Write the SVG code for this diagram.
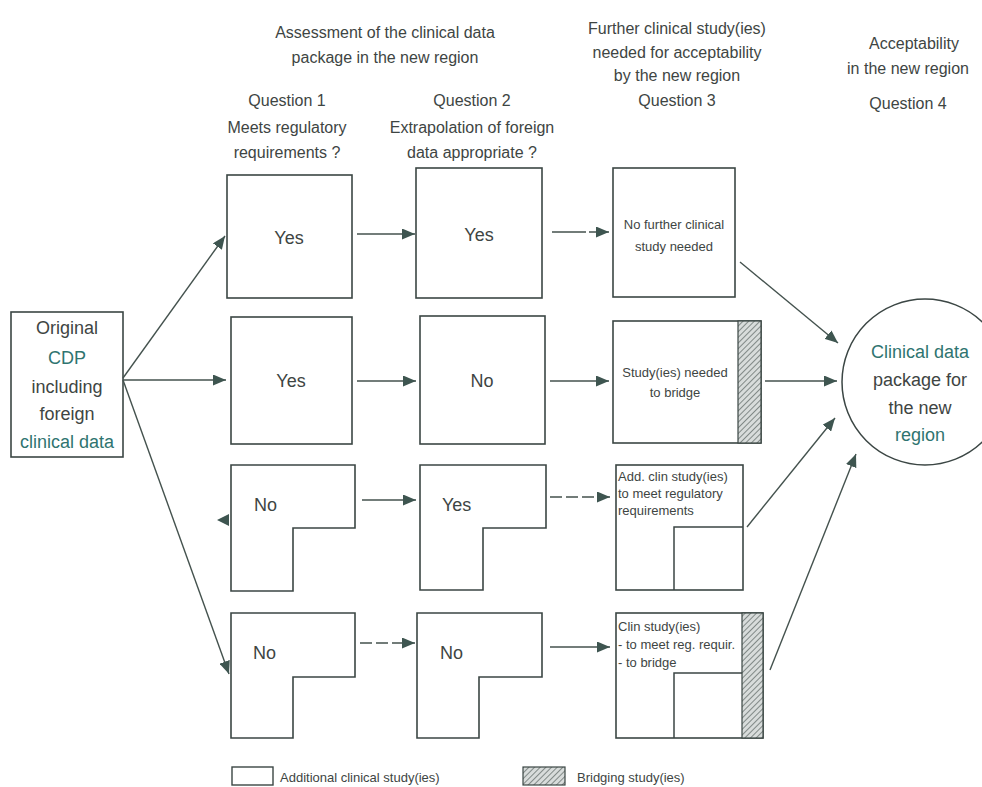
<svg xmlns="http://www.w3.org/2000/svg" width="982" height="787" viewBox="0 0 982 787">
<defs>
<style>
.t{font-family:"Liberation Sans",Arial,sans-serif;fill:#3e4543}
.h{font-size:16px;text-anchor:middle}
.big{font-size:18px}
.mid{text-anchor:middle}
.sm{font-size:13px}
.teal{fill:#2f7470}
.box{fill:#fff;stroke:#3b4644;stroke-width:1.6}
.ln{fill:none;stroke:#3b4644;stroke-width:1.5}
.c{fill:none;stroke:#44524e;stroke-width:1.4}
.ah{fill:#3e5550}
</style>
<marker id="arr" markerUnits="userSpaceOnUse" markerWidth="14" markerHeight="11" refX="13" refY="5.5" orient="auto" viewBox="0 0 14 11">
<path d="M0,0 L13,5.5 L0,11 Z" class="ah"/>
</marker>
<pattern id="hatch" patternUnits="userSpaceOnUse" width="4" height="4" patternTransform="rotate(45)">
<rect width="4" height="4" fill="#d8dcdb"/>
<line x1="0" y1="0" x2="0" y2="4" stroke="#6b7472" stroke-width="1.6"/>
</pattern>
</defs>
<rect width="982" height="787" fill="#fff"/>

<g id="headers">
<text class="t h" x="385" y="38">Assessment of the clinical data</text>
<text class="t h" x="385" y="63">package in the new region</text>
<text class="t h" x="287" y="106">Question 1</text>
<text class="t h" x="287" y="133">Meets regulatory</text>
<text class="t h" x="287" y="158">requirements ?</text>
<text class="t h" x="472" y="106">Question 2</text>
<text class="t h" x="472" y="133">Extrapolation of foreign</text>
<text class="t h" x="472" y="158">data appropriate ?</text>
<text class="t h" x="677" y="34">Further clinical study(ies)</text>
<text class="t h" x="677" y="58">needed for acceptability</text>
<text class="t h" x="677" y="81">by the new region</text>
<text class="t h" x="677" y="106">Question 3</text>
<text class="t h" x="914" y="49">Acceptability</text>
<text class="t h" x="908" y="74">in the new region</text>
<text class="t h" x="908" y="109">Question 4</text>
</g>

<g id="cdp">
<rect class="box" x="11" y="312" width="112" height="145"/>
<text class="t big mid" x="67" y="334">Original</text>
<text class="t big mid teal" x="67" y="364">CDP</text>
<text class="t big mid" x="67" y="393">including</text>
<text class="t big mid" x="67" y="420">foreign</text>
<text class="t big mid teal" x="67" y="448">clinical data</text>
</g>

<g id="q1-r1"><rect class="box" x="227" y="175" width="125" height="123"/><text class="t big mid" x="289" y="244">Yes</text></g>
<g id="q2-r1"><rect class="box" x="416" y="168" width="126" height="130"/><text class="t big mid" x="479" y="241">Yes</text></g>
<g id="q1-r2"><rect class="box" x="231" y="317" width="121" height="127"/><text class="t big mid" x="291" y="387">Yes</text></g>
<g id="q2-r2"><rect class="box" x="420" y="316" width="125" height="128"/><text class="t big mid" x="482" y="387">No</text></g>

<g id="q1-r3"><path class="box" d="M231,465 H355 V528 H293 V591 H231 Z"/><text class="t big" x="254" y="511">No</text></g>
<g id="q2-r3"><path class="box" d="M420,465 H546 V528 H483 V590 H420 Z"/><text class="t big" x="442" y="511">Yes</text></g>
<g id="q1-r4"><path class="box" d="M231,613 H355 V677 H293 V738 H231 Z"/><text class="t big" x="253" y="659">No</text></g>
<g id="q2-r4"><path class="box" d="M417,613 H542 V677 H479 V738 H417 Z"/><text class="t big" x="440" y="659">No</text></g>

<g id="q3-r1">
<rect class="box" x="613" y="168" width="122" height="129"/>
<text class="t sm mid" x="674" y="229">No further clinical</text>
<text class="t sm mid" x="674" y="251">study needed</text>
</g>
<g id="q3-r2">
<rect class="box" x="613" y="321" width="148" height="122"/>
<rect x="738" y="321" width="23" height="122" fill="url(#hatch)" stroke="#3b4644" stroke-width="1.2"/>
<text class="t sm mid" x="675" y="377">Study(ies) needed</text>
<text class="t sm mid" x="675" y="397">to bridge</text>
</g>
<g id="q3-r3">
<rect class="box" x="616" y="465" width="127" height="125"/>
<path class="ln" d="M674,590 V527 H743"/>
<text class="t sm" x="618" y="481">Add. clin study(ies)</text>
<text class="t sm" x="618" y="498">to meet  regulatory</text>
<text class="t sm" x="618" y="515">requirements</text>
</g>
<g id="q3-r4">
<rect class="box" x="616" y="613" width="147" height="125"/>
<rect x="742" y="613" width="21" height="125" fill="url(#hatch)" stroke="#3b4644" stroke-width="1.2"/>
<path class="ln" d="M674,738 V673 H742"/>
<text class="t sm" x="618" y="631">Clin study(ies)</text>
<text class="t sm" x="618" y="649">- to meet reg. requir.</text>
<text class="t sm" x="618" y="667">- to bridge</text>
</g>

<g id="result">
<circle cx="925" cy="382" r="83" fill="#fff" stroke="#3b4644" stroke-width="1.5"/>
<text class="t big mid teal" x="920" y="358">Clinical data</text>
<text class="t big mid" x="920" y="386">package for</text>
<text class="t big mid" x="920" y="414">the new</text>
<text class="t big mid teal" x="920" y="441">region</text>
</g>

<g id="connectors">
<line class="c" x1="123" y1="378" x2="225" y2="236" marker-end="url(#arr)"/>
<line class="c" x1="123" y1="380" x2="226" y2="380" marker-end="url(#arr)"/>
<line class="c" x1="123" y1="380" x2="229" y2="674" marker-end="url(#arr)"/>
<polygon class="ah" points="217,520 229,514 229,526"/>
<line class="c" x1="357" y1="234" x2="415" y2="234" marker-end="url(#arr)"/>
<line class="c" x1="552" y1="232" x2="609" y2="232" stroke-dasharray="34 3" marker-end="url(#arr)"/>
<line class="c" x1="357" y1="381" x2="416" y2="381" marker-end="url(#arr)"/>
<line class="c" x1="550" y1="381" x2="609" y2="381" marker-end="url(#arr)"/>
<line class="c" x1="362" y1="500" x2="416" y2="500" marker-end="url(#arr)"/>
<line class="c" x1="550" y1="497" x2="610" y2="497" stroke-dasharray="12 4" marker-end="url(#arr)"/>
<line class="c" x1="360" y1="643" x2="415" y2="643" stroke-dasharray="12 4" marker-end="url(#arr)"/>
<line class="c" x1="550" y1="647" x2="610" y2="647" marker-end="url(#arr)"/>
<line class="c" x1="740" y1="262" x2="838" y2="343" marker-end="url(#arr)"/>
<line class="c" x1="765" y1="381" x2="837" y2="381" marker-end="url(#arr)"/>
<line class="c" x1="747" y1="527" x2="835" y2="418" marker-end="url(#arr)"/>
<line class="c" x1="770" y1="670" x2="856" y2="454" marker-end="url(#arr)"/>
</g>

<g id="legend">
<rect x="232" y="767" width="41" height="18" fill="#fff" stroke="#3b4644" stroke-width="1.4"/>
<text class="t sm" x="280" y="782">Additional clinical study(ies)</text>
<rect x="523" y="767" width="42" height="18" fill="url(#hatch)" stroke="#3b4644" stroke-width="1.2"/>
<text class="t sm" x="577" y="782">Bridging study(ies)</text>
</g>
</svg>
